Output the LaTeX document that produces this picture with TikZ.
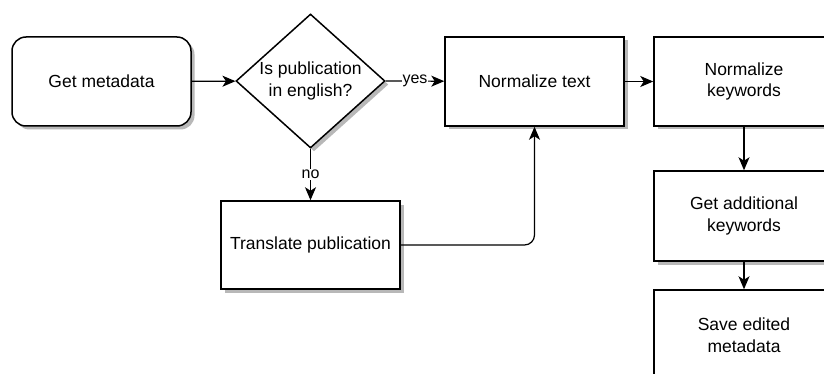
\documentclass[tikz,border=0pt]{standalone}
\usepackage{fontspec}
\setmainfont{Liberation Sans}
\usetikzlibrary{shapes.geometric,arrows.meta}

\begin{document}
\begin{tikzpicture}[x=1pt, y=-1pt, line width=1.2pt,
  every node/.style={font=\fontsize{17.5}{21.5}\selectfont},
  shadowed/.style={preaction={fill=black!28, draw=none, transform canvas={xshift=3.5pt, yshift=-3.5pt}}},
  box/.style={draw, line width=1.5pt, fill=white, shadowed, minimum width=179pt, minimum height=89pt, align=center, inner sep=0pt},
  flow/.style={-{Stealth[length=13pt, width=11pt, inset=3.5pt]}},
  tag/.style={fill=white, inner sep=1pt, font=\fontsize{16}{19}\selectfont}]

\useasboundingbox[fill=white] (0,0) rectangle (824,374);
\clip (0,0) rectangle (824,374);

\node (get) at (101.5, 81.5)[box, rounded corners=14pt] {Get metadata};
\node (decide) at (310.5, 81)[draw, line width=1.5pt, diamond, fill=white, shadowed, minimum width=149pt, minimum height=134pt, inner sep=0pt,
  label={[align=center]center:Is publication\\in english?}] {};
\node (trans) at (310.5, 245)[box, minimum height=88pt] {Translate publication};

\node (norm) at (534.5, 81.5)[box] {Normalize text};
\node (kw) at (744, 81.5)[box, minimum width=180pt] {Normalize\\keywords};
\node (addkw) at (744, 216)[box, minimum width=180pt, minimum height=90pt] {Get additional\\keywords};
\node (save) at (744, 335)[box, minimum width=180pt, minimum height=90pt] {Save edited\\metadata};

\draw[flow] (get) -- (decide);
\draw[flow] (decide.east) -- node[tag] {yes} (norm);
\draw[flow] (decide.south) -- node[tag] {no} (trans);
\draw[flow, rounded corners=10pt] (trans.east) -| (norm.south);
\draw[flow] (norm) -- (kw);
\draw[flow] (kw) -- (addkw);
\draw[flow] (addkw) -- (save);
\end{tikzpicture}
\end{document}
